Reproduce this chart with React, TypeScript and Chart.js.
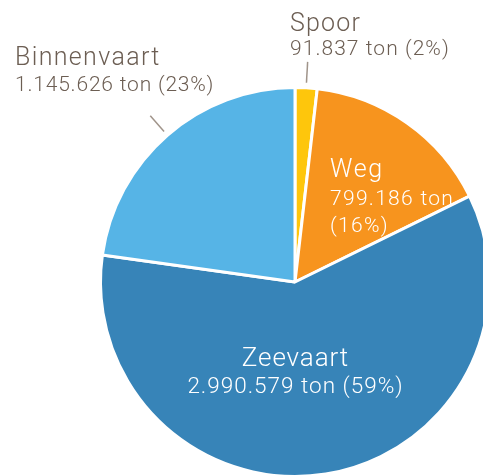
import { useEffect, useRef } from 'react';
import { Chart, registerables } from 'chart.js';

Chart.register(...registerables);

const categories = ['Spoor', 'Weg', 'Zeevaart', 'Binnenvaart'];
const tonnage = [91837, 799186, 2990579, 1145626];
const colors = ['#fec60c', '#f7941e', '#3784b8', '#56b4e6'];

const TEXT_BROWN = '#6c5e53';
const LEADER = '#a0948a';
const FONT = 'Roboto';

const fmt = (n: number) => String(n).replace(/\B(?=(\d{3})+(?!\d))/g, '.');
const total = tonnage.reduce((a, b) => a + b, 0);
const pct = (v: number) => Math.round((v / total) * 100) + '%';

// label layout relative to pie centre (dx, baselines dy), per category index
const layout = [
  { align: 'left', dx: -5, lines: [{ dy: -251, size: 25, ls: 1.2 }, { dy: -227, size: 21, ls: 1.05 }], color: TEXT_BROWN, leader: true, split: false },
  { align: 'left', dx: 35, lines: [{ dy: -105, size: 25, ls: 1.6 }, { dy: -77, size: 21, ls: 1.3 }, { dy: -50, size: 21, ls: 1.3 }], color: '#ffffff', leader: false, split: true },
  { align: 'center', dx: 0, lines: [{ dy: 84, size: 26, ls: 0.9 }, { dy: 111, size: 22.5, ls: 1.0 }], color: '#ffffff', leader: false, split: false },
  { align: 'left', dx: -280, lines: [{ dy: -217, size: 25, ls: 1.35 }, { dy: -191, size: 21, ls: 0.8 }], color: TEXT_BROWN, leader: true, split: false },
];

const labelPlugin = {
  id: 'sliceLabels',
  afterDatasetsDraw(chart: any) {
    const ctx = chart.ctx;
    const meta = chart.getDatasetMeta(0);
    meta.data.forEach((arc: any, i: number) => {
      const { x, y, startAngle, endAngle, outerRadius } = arc.getProps(['x', 'y', 'startAngle', 'endAngle', 'outerRadius'], true);
      const L = layout[i];
      const valueText = fmt(tonnage[i]) + ' ton';
      const pctText = '(' + pct(tonnage[i]) + ')';
      const texts = L.split ? [categories[i], valueText, pctText] : [categories[i], valueText + ' ' + pctText];
      ctx.save();
      if (L.leader) {
        const mid = (startAngle + endAngle) / 2;
        ctx.strokeStyle = LEADER;
        ctx.lineWidth = 1.5;
        ctx.beginPath();
        ctx.moveTo(x + Math.cos(mid) * (outerRadius + 5), y + Math.sin(mid) * (outerRadius + 5));
        ctx.lineTo(x + Math.cos(mid) * (outerRadius + 26), y + Math.sin(mid) * (outerRadius + 26));
        ctx.stroke();
      }
      ctx.fillStyle = L.color;
      ctx.textAlign = L.align as CanvasTextAlign;
      ctx.textBaseline = 'alphabetic';
      texts.forEach((t, j) => {
        const line = L.lines[j];
        ctx.font = `300 ${line.size}px ${FONT}`;
        (ctx as any).letterSpacing = line.ls + 'px';
        const off = L.align === 'center' ? line.ls / 2 : 0;
        ctx.fillText(t, x + L.dx + off, y + line.dy);
      });
      ctx.restore();
    });
  },
};

export default function App() {
  const ref = useRef<HTMLCanvasElement>(null);
  useEffect(() => {
    if (!ref.current) return;
    const chart = new Chart(ref.current, {
      type: 'pie',
      data: {
        labels: categories,
        datasets: [
          {
            data: tonnage,
            backgroundColor: colors,
            borderColor: '#ffffff',
            borderWidth: 3,
            hoverOffset: 0,
          },
        ],
      },
      options: {
        responsive: false,
        animation: false,
        devicePixelRatio: 1,
        layout: { padding: { left: 98, right: 98, top: 86, bottom: 86 } },
        plugins: { legend: { display: false }, tooltip: { enabled: false } },
      },
      plugins: [labelPlugin],
    });
    return () => chart.destroy();
  }, []);
  return (
    <div style={{ position: 'fixed', left: 0, top: 0, width: 483, height: 475, overflow: 'hidden', background: '#fff' }}>
      <canvas ref={ref} width={590} height={564} style={{ position: 'absolute', left: 0, top: 0, width: 590, height: 564 }} />
    </div>
  );
}
